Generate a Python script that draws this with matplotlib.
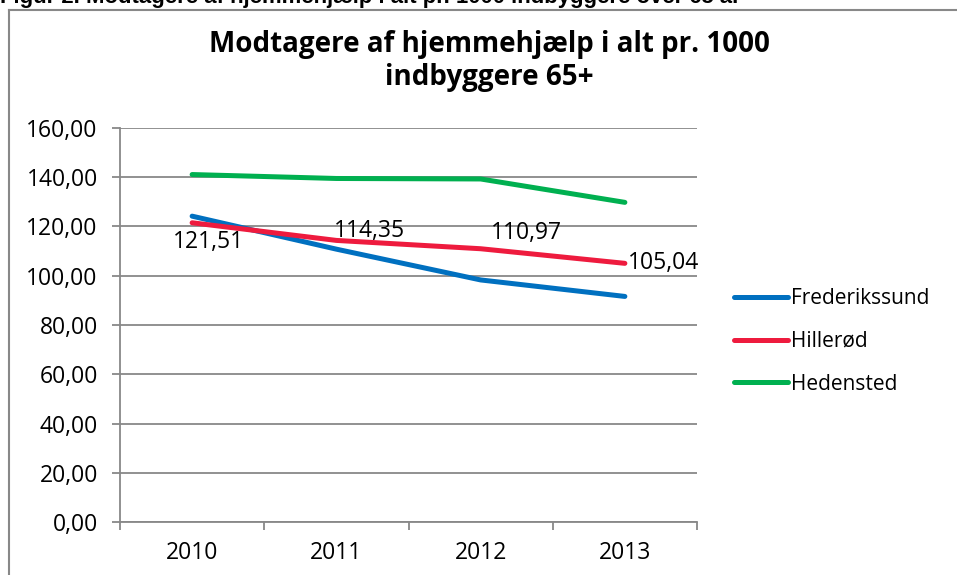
import matplotlib
matplotlib.use("Agg")
import matplotlib.pyplot as plt
from matplotlib.lines import Line2D

plt.rcParams['font.family'] = ['Open Sans', 'DejaVu Sans']

# data
years = ['2010', '2011', '2012', '2013']
frederikssund = [124.2, 110.8, 98.3, 91.6]
hilleroed = [121.51, 114.35, 110.97, 105.04]
hedensted = [141.1, 139.5, 139.3, 129.8]
yticks = [0, 20, 40, 60, 80, 100, 120, 140, 160]

fs = 16.5
fig = plt.figure(figsize=(9.57, 5.75), dpi=100)
ax = fig.add_axes([120/957, 1 - 522/575, 577/957, 394/575])

x = list(range(len(years)))
lw = 3.6
ax.plot(x, frederikssund, color='#0070C0', lw=lw, solid_capstyle='round', zorder=3)
ax.plot(x, hilleroed, color='#EE1B3E', lw=lw, solid_capstyle='round', zorder=4)
ax.plot(x, hedensted, color='#00B050', lw=lw, solid_capstyle='round', zorder=3)

# data labels for Hillerød
offsets = [(12, -14), (24, 7), (33, 11), (2, 0)]
aligns = ['center', 'center', 'center', 'left']
for xi, v, off, ha in zip(x, hilleroed, offsets, aligns):
    ax.annotate(f'{v:.2f}'.replace('.', ','), (xi, v), xytext=off,
                textcoords='offset points', ha=ha, va='center', fontsize=fs, zorder=5)

ax.set_xlim(-0.5, len(years) - 0.5)
ax.set_ylim(0, 160)
ax.set_yticks(yticks)
ax.set_yticklabels([f'{t:.2f}'.replace('.', ',') for t in yticks], fontsize=fs)
ax.yaxis.grid(True, color='#888888', lw=1.3)
ax.set_axisbelow(True)

ax.set_xticks([i - 0.5 for i in range(len(years) + 1)])
ax.set_xticklabels([])
ax.set_xticks(x, minor=True)
ax.set_xticklabels(years, minor=True, fontsize=fs)
ax.tick_params(axis='x', which='minor', length=0, pad=14)
ax.tick_params(axis='x', which='major', length=6, color='#888888', width=1.3)
ax.tick_params(axis='y', length=6, color='#888888', width=1.3, pad=10)

for s in ['top', 'right']:
    ax.spines[s].set_visible(False)
for s in ['left', 'bottom']:
    ax.spines[s].set_color('#888888')
    ax.spines[s].set_linewidth(1.3)

fig.text(489 / 957, 1 - 61 / 575, 'Modtagere af hjemmehjælp i alt pr. 1000\nindbyggere 65+',
         ha='center', va='center', fontsize=20, fontweight='bold', linespacing=1.15)

handles = [Line2D([], [], color=c, lw=lw, solid_capstyle='round')
           for c in ['#0070C0', '#EE1B3E', '#00B050']]
fig.legend(handles, ['Frederikssund', 'Hillerød', 'Hedensted'], loc='upper left',
           bbox_to_anchor=(734/957, 1 - 288/575), frameon=False, fontsize=15,
           borderpad=0, borderaxespad=0,
           handlelength=2.6, handletextpad=0.15, labelspacing=1.05)

# caption cut at the top
fig.text(0, 1 - 3 / 575, 'Figur 2. Modtagere af hjemmehjælp i alt pr. 1000 indbyggere over 65 år',
         ha='left', va='baseline', fontsize=15.9, fontweight='bold', family='Liberation Sans')

# outer chart border
fig.add_artist(Line2D([8.5/957, 8.5/957], [0, 1 - 10/575], color='#888888', lw=1.5,
                      transform=fig.transFigure))
fig.add_artist(Line2D([8.5/957, 1], [1 - 10/575, 1 - 10/575], color='#888888', lw=1.5,
                      transform=fig.transFigure))

fig.savefig('out.png', dpi=100)
